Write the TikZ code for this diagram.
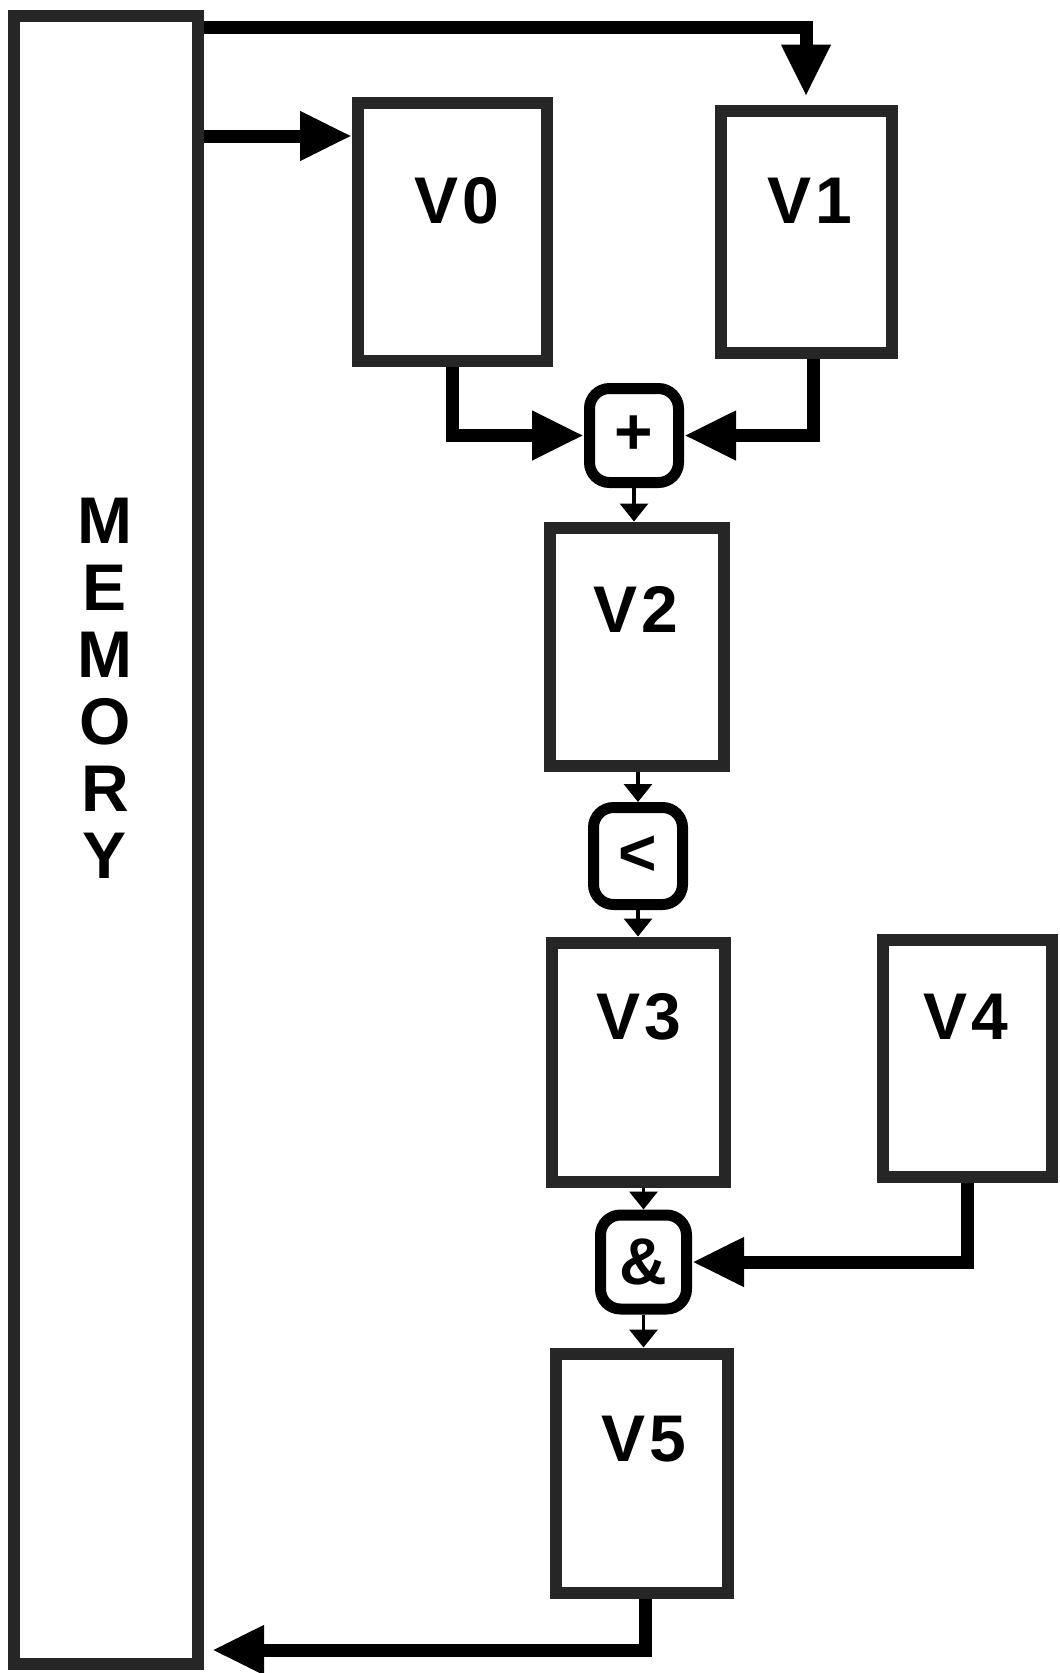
\documentclass[tikz,border=0pt]{standalone}
\usepackage{fontspec}
\setmainfont{Liberation Sans}
\usepackage{tikz}
\usetikzlibrary{arrows.meta,positioning,calc}

\tikzset{
	vreg/.style={draw=black!85, line width=12pt, inner sep=0pt},
	op/.style={draw, line width=11pt, rounded corners=20pt, inner sep=0pt},
	bigarrow/.style={line width=13pt, -{Triangle[length=52pt,width=46pt]}},
	smallarrow/.style={line width=3.5pt, -{Triangle[length=18pt,width=28pt]}}
}

\begin{document}
\begin{tikzpicture}[x=1pt, y=-1pt, font=\bfseries\fontsize{66}{67}\selectfont]
		\useasboundingbox (0,0) rectangle (1060,1673);

		\node[vreg, minimum width=184pt, minimum height=1648pt] (mem) at (106,840) {};
		\node[align=center, inner sep=0pt] (memtxt) at (105,688) {M\\E\\M\\O\\R\\Y};

		\node[vreg, minimum width=189pt, minimum height=258pt] (V0) at (452.5,232) {};
		\node[vreg, minimum width=171pt, minimum height=242pt] (V1) at (806,231.5) {};
		\node[vreg, minimum width=174pt, minimum height=238pt] (V2) at (636.5,646.5) {};
		\node[vreg, minimum width=173pt, minimum height=239pt] (V3) at (638,1062) {};
		\node[vreg, minimum width=169pt, minimum height=237pt] (V4) at (967,1058) {};
		\node[vreg, minimum width=172pt, minimum height=239pt] (V5) at (641.5,1473) {};

		\node (t0) at (457,201) {V\kern4pt0};
		\node (t1) at (810,201) {V\kern4pt1};
		\node (t2) at (636,609) {V\kern4pt2};
		\node (t3) at (639,1017) {V\kern4pt3};
		\node (t4) at (966,1017) {V\kern4pt4};
		\node (t5) at (644,1439) {V\kern4pt5};

		\node[op, minimum width=89pt, minimum height=94pt] (plus) at (634,435.5) {+};
		\node[op, minimum width=89pt, minimum height=97pt] (less) at (638,856) {<};
		\node[op, minimum width=86pt, minimum height=94pt] (amp) at (643.5,1262) {\&};

		\coordinate (top1) at ($(mem.north east)+(0,17)$);
		\coordinate (in0) at ($(V0.north west)+(0,39)$);
		\coordinate (back) at ($(mem.south east)+(0,-20)$);

		\draw[bigarrow, shorten >=8pt] (top1) -| (V1.north);
		\draw[bigarrow] (mem.east |- in0) -- (in0);
		\draw[bigarrow] (V0.south) |- (plus.west);
		\draw[bigarrow] ([xshift=7pt]V1.south) |- (plus.east);
		\draw[bigarrow] (V4.south) |- (amp.east);
		\draw[bigarrow, shorten >=8pt] ([xshift=4pt]V5.south) |- (back);

		\draw[smallarrow] (plus.south) -- (plus.south |- V2.north);
		\draw[smallarrow] (less.north |- V2.south) -- (less.north);
		\draw[smallarrow] (less.south) -- (less.south |- V3.north);
		\draw[smallarrow] (amp.north |- V3.south) -- (amp.north);
		\draw[smallarrow] (amp.south) -- (amp.south |- V5.north);
	\end{tikzpicture}
\end{document}
